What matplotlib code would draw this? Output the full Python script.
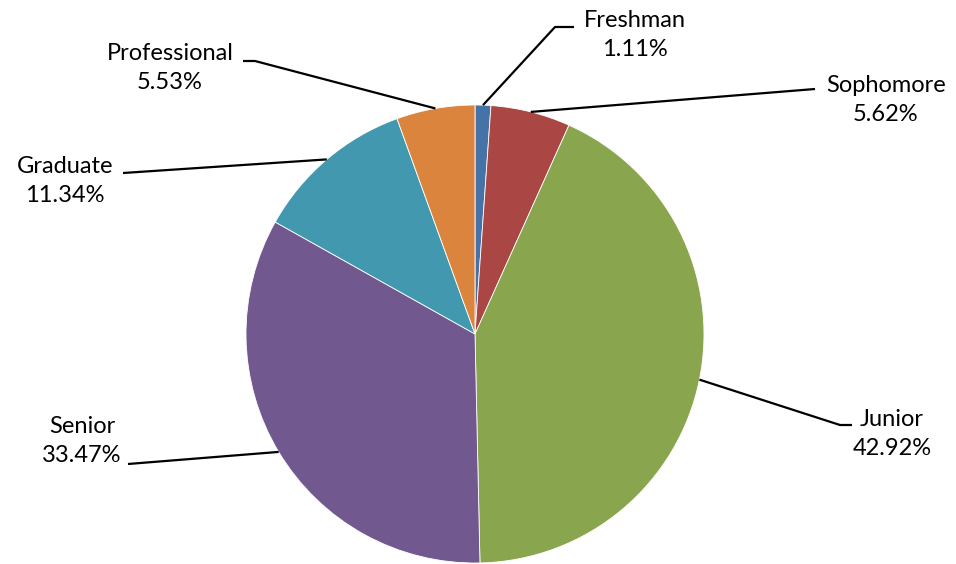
import matplotlib
matplotlib.use("Agg")
import matplotlib.pyplot as plt
import numpy as np

categories = ["Freshman", "Sophomore", "Junior", "Senior", "Graduate", "Professional"]
values = [1.11, 5.62, 42.92, 33.47, 11.34, 5.53]
colors = ["#4572A7", "#AA4643", "#89A54E", "#71588F", "#4198AF", "#DB843D"]

W, H = 956, 564
fig = plt.figure(figsize=(W / 100, H / 100), dpi=100)
ax = fig.add_axes([0, 0, 1, 1])

cx, cy, r = 475, H - 334, 229
wedges, _ = ax.pie(values, colors=colors, startangle=90, counterclock=False,
                   center=(cx, cy), radius=r, frame=True,
                   wedgeprops=dict(linewidth=0.6, edgecolor="white"))
ax.set_xlim(0, W)
ax.set_ylim(0, H)
ax.set_aspect("equal")
ax.axis("off")

# label layout (pixel coords from top): text center, elbow point, end point
layout = {
    "Freshman":     dict(text=(635, 35), elbow=(555, 27), end=(574, 27)),
    "Sophomore":    dict(text=(886, 100), elbow=(815, 89), end=(815, 89)),
    "Junior":       dict(text=(892, 434), elbow=(840, 425), end=(852, 425)),
    "Senior":       dict(text=(82, 441), elbow=(128, 464), end=(128, 464)),
    "Graduate":     dict(text=(65, 181), elbow=(123, 173), end=(123, 173)),
    "Professional": dict(text=(170, 68), elbow=(255, 61), end=(243, 61)),
}

for w, cat, v in zip(wedges, categories, values):
    ang = np.deg2rad((w.theta1 + w.theta2) / 2)
    ax_ = cx + r * np.cos(ang)
    ay_ = cy + r * np.sin(ang)
    L = layout[cat]
    ex, ey = L["elbow"]
    nx, ny = L["end"]
    ax.plot([ax_, ex, nx], [ay_, H - ey, H - ny], color="black", lw=1.6,
            solid_capstyle="butt", zorder=3)
    tx, ty = L["text"]
    ax.text(tx, H - ty, f"{cat}\n{v:.2f}%", ha="center", va="center",
            fontsize=17, family=["Lato", "DejaVu Sans"], linespacing=1.5,
            color="black")

fig.savefig("out.png", dpi=100)
